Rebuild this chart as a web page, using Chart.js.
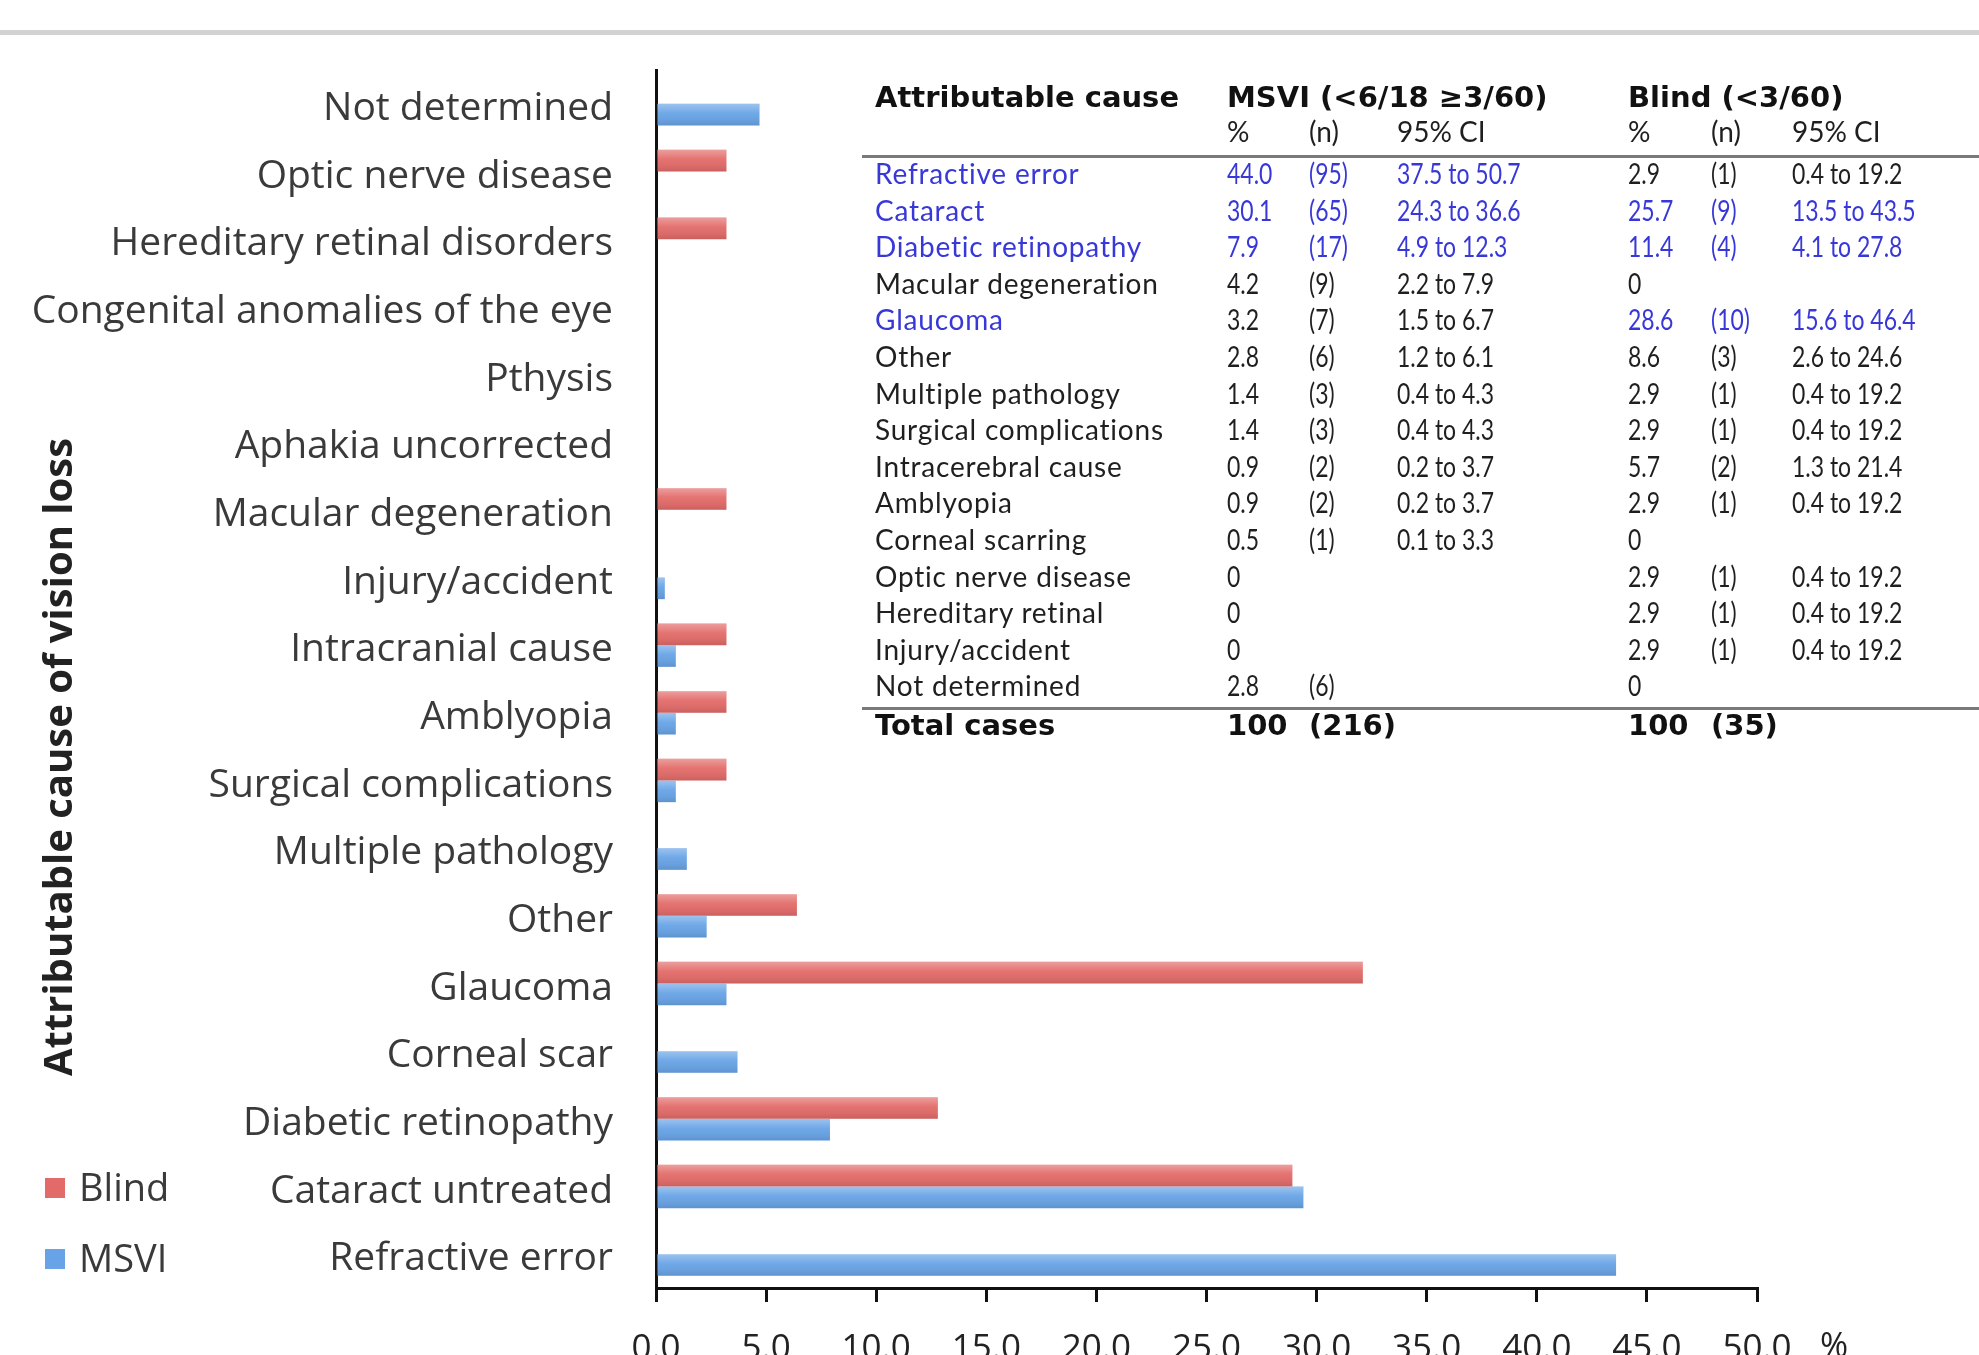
<!DOCTYPE html>
<html>
<head>
<meta charset="utf-8">
<script src="https://cdn.jsdelivr.net/npm/chart.js@4.4.0/dist/chart.umd.min.js"></script>
<style>
  html, body { margin: 0; padding: 0; background: #fff; }
  #wrap { position: relative; width: 1979px; height: 1355px; overflow: hidden; background: #fff; }
  #c { position: absolute; left: 0; top: 0; }
  #topline { position: absolute; left: 0; top: 30px; width: 1979px; height: 5px; background: #d2d2d2; }
  #tbl { position: absolute; left: 0; top: 0; width: 1979px; height: 760px; font-family: Lato, "Open Sans", sans-serif; }
  .cell { position: absolute; white-space: nowrap; font-size: 28px; line-height: 32px; color: #1f1f1f;
          letter-spacing: 0.8px; transform: translateY(-50%); transform-origin: left center; }
  .num { letter-spacing: 0; transform: translateY(-50%) scaleX(0.82); }
  .hd { font-family: "DejaVu Sans", sans-serif; font-weight: bold; font-size: 29px; color: #111; letter-spacing: 0; transform: translateY(-50%); }
  .sub { font-size: 28px; letter-spacing: 0; }
  .rule { position: absolute; left: 862px; width: 1117px; height: 3px; background: #7a7a7a; }
</style>
</head>
<body>
<div id="wrap">
  <canvas id="c" width="1979" height="1355"></canvas>
  <div id="topline"></div>
  <div id="tbl"></div>
</div>
<script>
// bar chart data (top to bottom)
const causes = [
  'Not determined', 'Optic nerve disease', 'Hereditary retinal disorders',
  'Congenital anomalies of the eye', 'Pthysis', 'Aphakia uncorrected',
  'Macular degeneration', 'Injury/accident', 'Intracranial cause', 'Amblyopia',
  'Surgical complications', 'Multiple pathology', 'Other', 'Glaucoma',
  'Corneal scar', 'Diabetic retinopathy', 'Cataract untreated', 'Refractive error'
];
const blindValues = [0, 3.2, 3.2, 0, 0, 0, 3.2, 0, 3.2, 3.2, 3.2, 0, 6.4, 32.1, 0, 12.8, 28.9, 0];
const msviValues  = [4.7, 0, 0, 0, 0, 0, 0, 0.4, 0.9, 0.9, 0.9, 1.4, 2.3, 3.2, 3.7, 7.9, 29.4, 43.6];

// inset table
const tableCauses = ['Refractive error', 'Cataract', 'Diabetic retinopathy', 'Macular degeneration',
  'Glaucoma', 'Other', 'Multiple pathology', 'Surgical complications', 'Intracerebral cause',
  'Amblyopia', 'Corneal scarring', 'Optic nerve disease', 'Hereditary retinal',
  'Injury/accident', 'Not determined'];
const msviPct = ['44.0', '30.1', '7.9', '4.2', '3.2', '2.8', '1.4', '1.4', '0.9', '0.9', '0.5', '0', '0', '0', '2.8'];
const msviN = ['(95)', '(65)', '(17)', '(9)', '(7)', '(6)', '(3)', '(3)', '(2)', '(2)', '(1)', '', '', '', '(6)'];
const msviCI = ['37.5 to 50.7', '24.3 to 36.6', '4.9 to 12.3', '2.2 to 7.9', '1.5 to 6.7', '1.2 to 6.1',
  '0.4 to 4.3', '0.4 to 4.3', '0.2 to 3.7', '0.2 to 3.7', '0.1 to 3.3', '', '', '', ''];
const blindPct = ['2.9', '25.7', '11.4', '0', '28.6', '8.6', '2.9', '2.9', '5.7', '2.9', '0', '2.9', '2.9', '2.9', '0'];
const blindN = ['(1)', '(9)', '(4)', '', '(10)', '(3)', '(1)', '(1)', '(2)', '(1)', '', '(1)', '(1)', '(1)', ''];
const blindCI = ['0.4 to 19.2', '13.5 to 43.5', '4.1 to 27.8', '', '15.6 to 46.4', '2.6 to 24.6',
  '0.4 to 19.2', '0.4 to 19.2', '1.3 to 21.4', '0.4 to 19.2', '', '0.4 to 19.2', '0.4 to 19.2', '0.4 to 19.2', ''];
const totalRow = ['Total cases', '100', '(216)', '', '100', '(35)', ''];

// which parts of a row are blue: [label, msvi, blind]
const blueParts = [[1, 1, 0], [1, 1, 1], [1, 1, 1], [0, 0, 0], [1, 0, 1]];

const RED = '#e26a68';
const BLUE = '#67a3e6';
const TXT_BLUE = '#3838d8';

// ---- table ----
const tbl = document.getElementById('tbl');
const colX = [875, 1227, 1309, 1397, 1628, 1711, 1792];
function cell(txt, x, y, cls, color) {
  if (!txt) return;
  const d = document.createElement('div');
  d.className = 'cell' + (cls ? ' ' + cls : '');
  d.textContent = txt;
  d.style.left = x + 'px';
  d.style.top = y + 'px';
  if (color) d.style.color = color;
  tbl.appendChild(d);
}
function rule(y) {
  const d = document.createElement('div');
  d.className = 'rule';
  d.style.top = (y - 1) + 'px';
  tbl.appendChild(d);
}
cell('Attributable cause', colX[0], 97, 'hd');
cell('MSVI (<6/18 \u22653/60)', colX[1], 97, 'hd');
cell('Blind (<3/60)', colX[4], 97, 'hd');
['%', '(n)', '95% CI'].forEach((t, i) => {
  cell(t, colX[1 + i], 131, 'sub');
  cell(t, colX[4 + i], 131, 'sub');
});
rule(156);
tableCauses.forEach((name, i) => {
  const y = 173 + i * 36.6;
  const b = blueParts[i] || [0, 0, 0];
  cell(name, colX[0], y, '', b[0] ? TXT_BLUE : null);
  [msviPct[i], msviN[i], msviCI[i]].forEach((t, j) => cell(t, colX[1 + j], y, 'num', b[1] ? TXT_BLUE : null));
  [blindPct[i], blindN[i], blindCI[i]].forEach((t, j) => cell(t, colX[4 + j], y, 'num', b[2] ? TXT_BLUE : null));
});
rule(708);
totalRow.forEach((t, j) => cell(t, colX[j], 725, 'hd'));

// ---- chart ----
const glossPlugin = {
  id: 'gloss',
  afterDatasetsDraw(chart) {
    const ctx = chart.ctx;
    chart.data.datasets.forEach((ds, di) => {
      chart.getDatasetMeta(di).data.forEach(bar => {
        const w = bar.x - bar.base;
        if (w <= 0.5) return;
        const top = bar.y - bar.height / 2;
        const g = ctx.createLinearGradient(0, top, 0, top + bar.height);
        g.addColorStop(0, 'rgba(255,255,255,0.35)');
        g.addColorStop(0.45, 'rgba(255,255,255,0.05)');
        g.addColorStop(1, 'rgba(0,0,0,0.10)');
        ctx.save();
        ctx.fillStyle = g;
        ctx.fillRect(bar.base, top, w, bar.height);
        ctx.restore();
      });
    });
  }
};

const extrasPlugin = {
  id: 'extras',
  afterDraw(chart) {
    const ctx = chart.ctx;
    ctx.save();
    // y axis title
    ctx.translate(61, 757);
    ctx.rotate(-Math.PI / 2);
    ctx.font = 'bold 40px "Open Sans"';
    ctx.fillStyle = '#222';
    ctx.textAlign = 'center';
    ctx.textBaseline = 'middle';
    ctx.fillText('Attributable cause of vision loss', 0, 0);
    ctx.restore();

    // legend
    ctx.save();
    ctx.font = '38px "Open Sans"';
    ctx.textBaseline = 'middle';
    ctx.textAlign = 'left';
    [['Blind', RED, 1188], ['MSVI', BLUE, 1259]].forEach(([t, c, y]) => {
      ctx.fillStyle = c;
      ctx.fillRect(45, y - 10, 20, 20);
      ctx.fillStyle = '#3a3a3a';
      ctx.fillText(t, 79, y + 2);
    });

    // unit after last tick
    const xs = chart.scales.x;
    ctx.font = '34px "Open Sans"';
    ctx.fillStyle = '#222';
    ctx.textBaseline = 'top';
    ctx.fillText('%', xs.right + 63, xs.top + 42);
    ctx.restore();
  }
};

new Chart(document.getElementById('c'), {
  type: 'bar',
  data: {
    labels: causes,
    datasets: [
      { label: 'Blind', data: blindValues, backgroundColor: RED },
      { label: 'MSVI', data: msviValues, backgroundColor: BLUE }
    ]
  },
  options: {
    indexAxis: 'y',
    responsive: false,
    animation: false,
    categoryPercentage: 0.64,
    barPercentage: 1.0,
    layout: { padding: { left: 0, right: 222, top: 70, bottom: 0 } },
    plugins: {
      legend: { display: false },
      tooltip: { enabled: false }
    },
    scales: {
      y: {
        grid: { display: false, drawTicks: false },
        border: { display: true, color: '#111', width: 3 },
        ticks: {
          color: '#3a3a3a',
          padding: 43,
          labelOffset: 5,
          autoSkip: false,
          font: { family: '"Open Sans"', size: 39 }
        },
        afterFit(scale) { scale.width = 656; }
      },
      x: {
        min: 0,
        max: 50,
        grid: { display: true, drawOnChartArea: false, drawTicks: true, tickLength: 14, color: '#111', lineWidth: 3 },
        border: { display: true, color: '#111', width: 3 },
        ticks: {
          stepSize: 5,
          color: '#222',
          padding: 26,
          font: { family: '"Open Sans"', size: 35 },
          callback: v => v.toFixed(1),
          maxRotation: 0
        },
        afterFit(scale) { scale.height = 67; }
      }
    }
  },
  plugins: [glossPlugin, extrasPlugin]
});
</script>
</body>
</html>
